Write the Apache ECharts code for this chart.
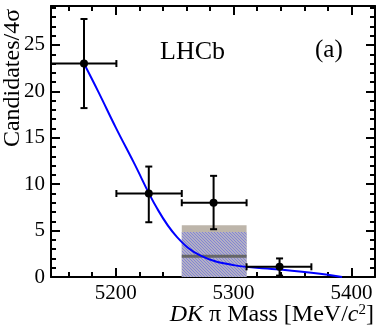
<!DOCTYPE html>
<html>
<head>
<meta charset="utf-8">
<script src="https://cdn.jsdelivr.net/npm/echarts@6/dist/echarts.min.js"></script>
<style>
html, body { margin: 0; padding: 0; background: #fff; }
#chart { width: 392px; height: 334px; }
</style>
</head>
<body>
<div id="chart"></div>
<script>
// data points (bin centres, bin edges, values, error ends)
var xCenter = [5173, 5228, 5283, 5339];
var binLo = [5145, 5200.5, 5256, 5311];
var binHi = [5200.5, 5256, 5311, 5366];
var yVal = [23, 9, 8, 1.1];
var yErrLo = [18.2, 5.9, 5.15, 0.15];
var yErrHi = [27.8, 11.9, 10.9, 2.0];

// fitted curve
var curveX = [5173, 5185, 5200, 5215, 5235, 5252, 5272, 5300, 5339, 5380, 5392];
var curveY = [23.0, 20.0, 16.1, 12.4, 7.4, 4.3, 2.3, 1.28, 0.8, 0.25, 0];

// background box: x range, total top, hatched top, central value
var boxX = [5256, 5311];
var boxTotal = 5.58;
var boxHatch = 4.85;
var boxCentral = 2.23;

// ticks
var xMajor = [5200, 5300, 5400];
var yMajor = [0, 5, 10, 15, 20, 25];
var xMinor = [];
for (var t = 5160; t <= 5420; t += 20) xMinor.push(t);
var yMinor = [];
for (var u = 0; u <= 29; u++) yMinor.push(u);

var font = 'Liberation Serif';

// hatch pattern
var pc = document.createElement('canvas');
pc.width = 3; pc.height = 3;
var pctx = pc.getContext('2d');
for (var i = 0; i < 3; i++) {
    for (var j = 0; j < 3; j++) {
        pctx.fillStyle = ((i - j + 3) % 3 === 0) ? '#8484d4' : '#b2b0c4';
        pctx.fillRect(i, j, 1, 1);
    }
}

function plain(v) { return String(v); }

function xAx(pos, ticks, len, labels, line) {
    return {
        type: 'value', position: pos, min: 5145, max: 5420,
        axisLine: { show: line, onZero: false, lineStyle: { color: '#000', width: 2 } },
        axisTick: { show: true, inside: true, length: len, customValues: ticks, lineStyle: { color: '#000', width: 2 } },
        axisLabel: { show: labels, customValues: ticks, formatter: plain, color: '#000', fontFamily: font, fontSize: 21, margin: 6 },
        splitLine: { show: false }
    };
}
function yAx(pos, ticks, len, labels, line) {
    return {
        type: 'value', position: pos, min: 0, max: 29.2,
        axisLine: { show: line, onZero: false, lineStyle: { color: '#000', width: 2 } },
        axisTick: { show: true, inside: true, length: len, customValues: ticks, lineStyle: { color: '#000', width: 2 } },
        axisLabel: { show: labels, customValues: ticks, formatter: plain, color: '#000', fontFamily: font, fontSize: 21, margin: 6 },
        splitLine: { show: false }
    };
}

var points = xCenter.map(function (x, k) {
    return [x, yVal[k], binLo[k], binHi[k], yErrLo[k], yErrHi[k]];
});
var curve = curveX.map(function (x, k) { return [x, curveY[k]]; });

var myChart = echarts.init(document.getElementById('chart'));
var option = {
    animation: false,
    grid: { left: 51, right: 17, top: 6, bottom: 57 },
    xAxis: [
        xAx('bottom', xMajor, 9, true, true),
        xAx('bottom', xMinor, 5, false, false),
        xAx('top', xMajor, 9, false, true),
        xAx('top', xMinor, 5, false, false)
    ],
    yAxis: [
        yAx('left', yMajor, 9, true, true),
        yAx('left', yMinor, 5, false, false),
        yAx('right', yMajor, 9, false, true),
        yAx('right', yMinor, 5, false, false)
    ],
    graphic: [
        { type: 'text', x: 13, y: 78, rotation: Math.PI / 2,
          style: { text: 'Candidates/4σ', fontFamily: font, fontSize: 24, fill: '#000', align: 'center', verticalAlign: 'middle' } },
        { type: 'text', x: 160, y: 52,
          style: { text: 'LHCb', fontFamily: font, fontSize: 26, fill: '#000', align: 'left', verticalAlign: 'middle' } },
        { type: 'text', x: 315, y: 50,
          style: { text: '(a)', fontFamily: font, fontSize: 25, fill: '#000', align: 'left', verticalAlign: 'middle' } },
        { type: 'text', x: 374, y: 315,
          style: {
              text: '{i|DK}{n| π Mass [MeV/}{i|c}{s|2}{n|]}',
              align: 'right', verticalAlign: 'middle',
              rich: {
                  i: { fontFamily: font, fontSize: 24, fontStyle: 'italic', fill: '#000' },
                  n: { fontFamily: font, fontSize: 24, fill: '#000' },
                  s: { fontFamily: font, fontSize: 15, fill: '#000', verticalAlign: 'top', padding: [0, 0, 10, 0] }
              }
          } }
    ],
    series: [
        {
            type: 'custom', z: 1, clip: true,
            data: [[boxX[0], boxX[1], boxTotal, boxHatch, boxCentral]],
            renderItem: function (params, api) {
                var p0 = api.coord([api.value(0), 0]);
                var pT = api.coord([api.value(1), api.value(2)]);
                var pH = api.coord([api.value(1), api.value(3)]);
                var pC = api.coord([api.value(1), api.value(4)]);
                return { type: 'group', children: [
                    { type: 'rect', shape: { x: p0[0], y: pT[1], width: pT[0] - p0[0], height: p0[1] - pT[1] }, style: { fill: '#bdb5aa' } },
                    { type: 'rect', shape: { x: p0[0], y: pH[1], width: pH[0] - p0[0], height: p0[1] - pH[1] }, style: { fill: { image: pc, repeat: 'repeat' } } },
                    { type: 'line', shape: { x1: p0[0], y1: pC[1], x2: pC[0], y2: pC[1] }, style: { stroke: '#666', lineWidth: 3 } }
                ] };
            }
        },
        {
            type: 'line', z: 2, data: curve, smooth: 0.4, showSymbol: false,
            lineStyle: { color: '#0000ff', width: 2 }
        },
        {
            type: 'custom', z: 3, clip: true,
            data: points,
            renderItem: function (params, api) {
                var x = api.value(0), y = api.value(1);
                var c = api.coord([x, y]);
                var pl = api.coord([api.value(2), y]);
                var ph = api.coord([api.value(3), y]);
                var pb = api.coord([x, api.value(4)]);
                var pt = api.coord([x, api.value(5)]);
                var st = { stroke: '#000', lineWidth: 2 };
                var cap = 3.5;
                return { type: 'group', children: [
                    { type: 'line', shape: { x1: pl[0], y1: c[1], x2: ph[0], y2: c[1] }, style: st },
                    { type: 'line', shape: { x1: c[0], y1: pb[1], x2: c[0], y2: pt[1] }, style: st },
                    { type: 'line', shape: { x1: pl[0], y1: c[1] - cap, x2: pl[0], y2: c[1] + cap }, style: st },
                    { type: 'line', shape: { x1: ph[0], y1: c[1] - cap, x2: ph[0], y2: c[1] + cap }, style: st },
                    { type: 'line', shape: { x1: c[0] - cap, y1: pb[1], x2: c[0] + cap, y2: pb[1] }, style: st },
                    { type: 'line', shape: { x1: c[0] - cap, y1: pt[1], x2: c[0] + cap, y2: pt[1] }, style: st },
                    { type: 'circle', shape: { cx: c[0], cy: c[1], r: 4 }, style: { fill: '#000' } }
                ] };
            }
        }
    ]
};
myChart.setOption(option);
</script>
</body>
</html>
